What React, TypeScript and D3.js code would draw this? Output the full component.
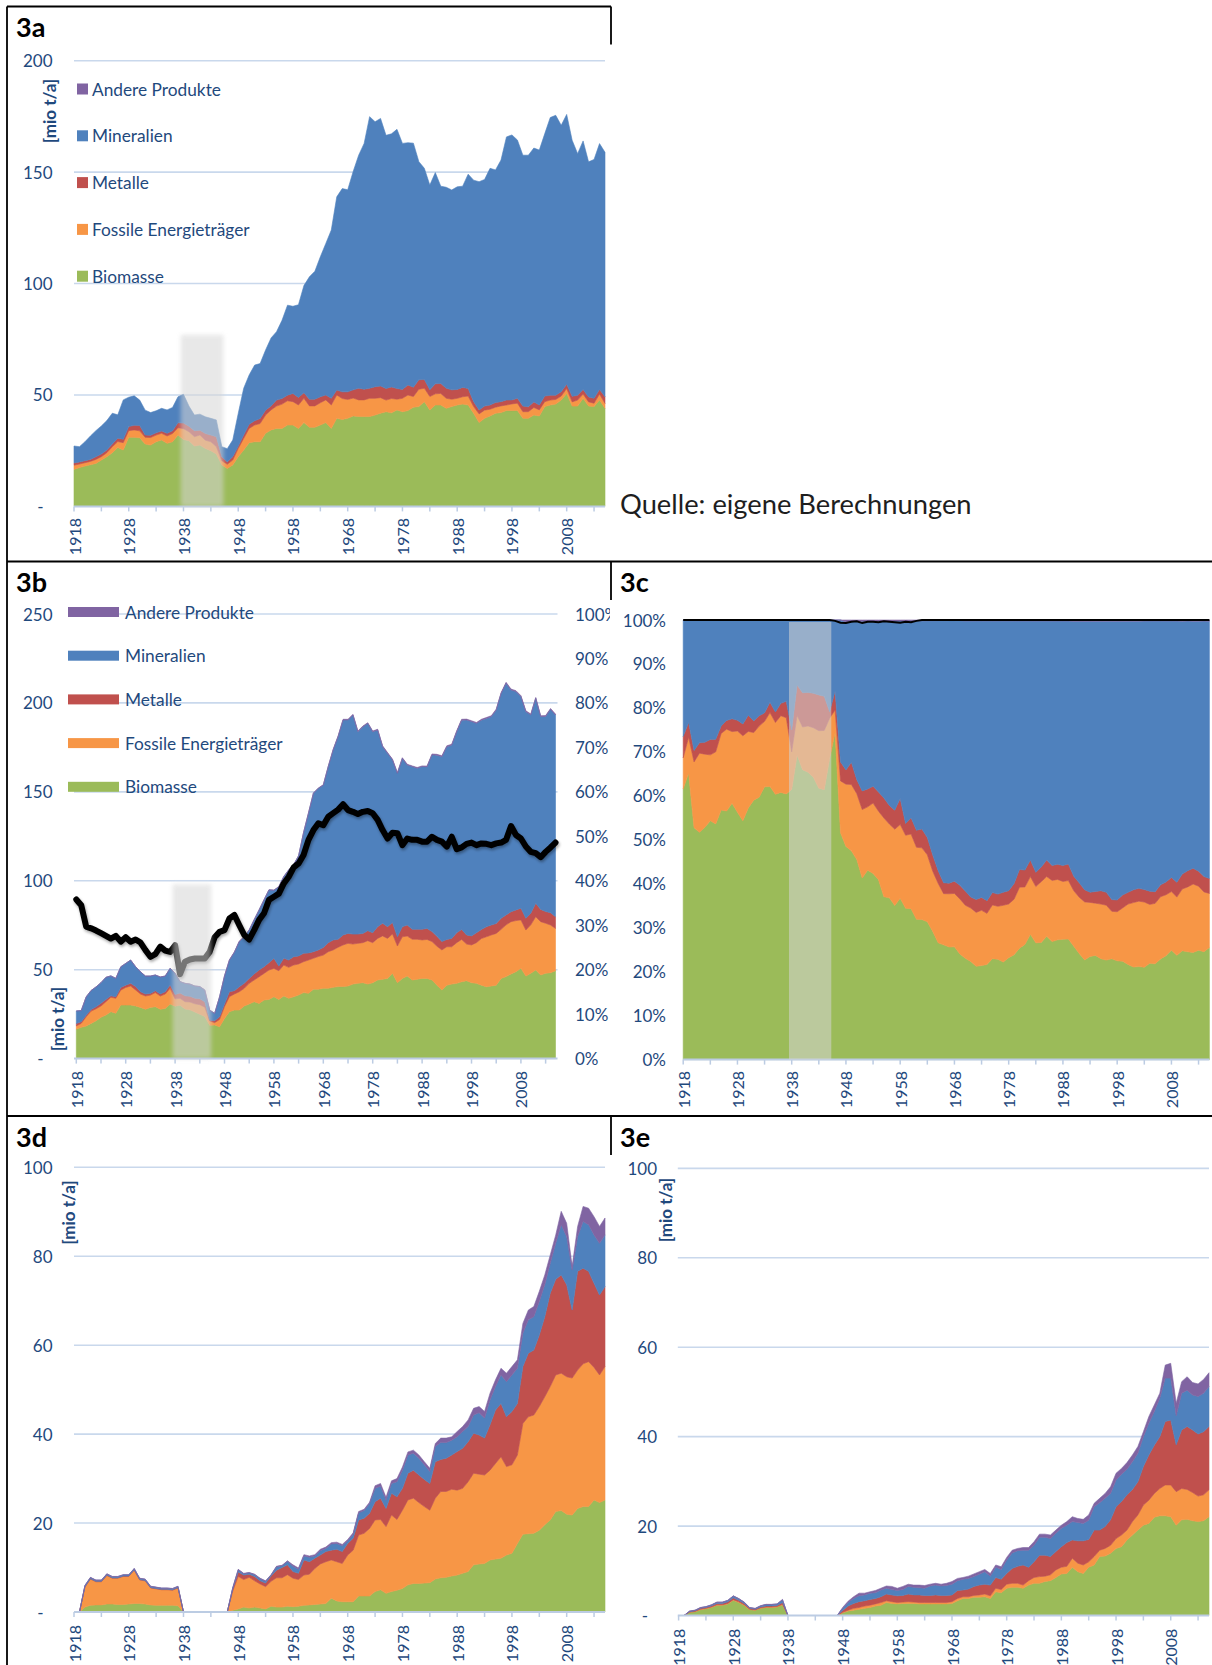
import React from 'react';
import * as d3 from 'd3';

const FONT = "Lato, 'Open Sans', 'DejaVu Sans', sans-serif";
const TEXT = '#1F497D';
const GRID = '#C9D8EC';
const AXIS = '#BCCCE3';

const years = d3.range(1918, 2016);
const keys = ['bio', 'fos', 'met', 'min', 'and'];
const names: Record<string, string> = {
  and: 'Andere Produkte', min: 'Mineralien', met: 'Metalle', fos: 'Fossile Energieträger', bio: 'Biomasse',
};
const colors: Record<string, string> = {
  bio: '#9BBB59', fos: '#F79646', met: '#C0504D', min: '#4F81BD', and: '#8064A2',
};
const legendOrder = ['and', 'min', 'met', 'fos', 'bio'];

// ---------- 3a ----------
const a_bio = [16.6,17.4,18.1,18.7,19.3,20.8,22.3,24.1,26.4,25.3,
31.0,31.0,30.8,28.0,27.5,29.0,29.8,28.3,29.0,32.0,
30.0,29.5,27.1,27.5,26.0,25.0,23.5,18.6,17.0,18.6,
22.3,25.3,28.6,29.0,29.0,32.8,34.3,35.0,35.0,36.5,
36.5,35.0,37.6,35.5,35.5,36.5,37.6,35.0,39.5,39.0,
39.5,40.6,40.3,40.3,40.3,41.0,41.8,42.5,42.0,43.3,
42.5,43.0,44.5,44.8,47.0,43.3,45.5,45.5,44.0,44.8,
45.5,45.9,45.5,41.8,37.6,39.5,40.6,41.8,42.1,43.0,
43.0,43.0,39.5,39.5,41.0,40.6,44.8,45.5,45.9,47.7,
50.7,45.0,45.0,48.5,45.0,44.8,47.7,44.0];
const a_fos = [1.9,1.6,1.5,1.5,1.8,1.5,1.8,2.7,2.7,3.3,
3.0,3.3,3.1,3.0,3.4,3.0,3.0,3.3,3.7,3.3,
4.9,4.0,4.2,4.5,3.7,4.0,3.3,1.9,1.9,2.2,
3.7,5.2,6.4,7.5,8.2,8.2,9.0,10.0,10.9,10.9,
10.5,10.5,10.9,9.6,9.6,10.0,10.2,10.5,10.5,9.4,
8.5,8.0,7.5,7.5,8.2,7.5,7.0,5.2,6.4,4.8,
6.0,7.0,4.8,7.8,6.0,6.0,5.0,5.2,4.5,3.3,
3.0,3.3,4.0,3.0,3.9,3.7,3.0,2.7,3.0,2.5,
3.0,3.3,3.0,3.0,3.4,2.7,2.2,2.2,2.1,1.8,
2.2,1.9,2.7,1.9,1.9,1.5,2.7,2.2];
const a_met = [1.0,0.9,0.9,0.9,1.2,1.2,1.2,1.2,1.5,1.5,
1.8,2.1,2.4,1.0,1.0,1.0,1.0,1.2,1.2,2.2,
2.5,2.5,2.7,2.2,3.0,3.0,4.5,1.8,1.0,1.5,
1.0,1.5,1.9,1.9,2.2,2.2,1.8,2.7,2.5,2.5,
3.7,3.4,2.5,3.0,3.0,2.7,2.2,3.0,2.2,3.0,
3.4,3.7,5.2,4.8,4.5,5.2,5.2,5.2,5.2,4.8,
4.0,4.5,4.2,4.2,4.0,3.0,4.5,4.5,4.5,4.2,
4.0,4.2,3.4,2.2,1.8,1.8,1.9,2.1,1.9,2.2,
1.8,2.2,2.5,2.2,2.5,2.2,2.5,2.2,1.9,1.9,
1.9,2.5,2.2,2.1,2.2,2.2,2.1,3.0];
const a_min = [7.6,6.9,8.5,10.5,11.7,12.6,13.2,13.8,10.5,17.7,
13.2,13.2,11.4,11.2,10.2,9.9,10.2,10.5,10.5,11.7,
12.9,9.0,7.0,7.2,7.5,7.5,7.5,4.5,6.0,7.5,
14.7,21.0,22.1,25.0,24.7,27.0,30.5,30.7,35.1,40.4,
39.1,41.6,48.1,54.9,57.4,62.8,68.0,75.5,86.7,91.2,
90.7,98.0,104.6,110.3,121.9,118.9,120.1,113.6,113.6,116.3,
110.4,108.7,109.5,97.9,94.7,91.9,94.8,88.5,90.2,89.7,
90.9,90.3,96.2,99.4,102.4,101.7,106.2,104.4,108.4,118.1,
118.9,115.9,112.6,112.9,113.9,114.4,117.8,124.6,125.6,119.6,
121.1,114.9,108.4,111.5,105.5,107.2,110.3,109.7];

// ---------- 3b ----------
const b_bio = [16.5,17.6,18.3,19.8,21.3,23.2,24.5,26.4,25.5,30.1,
30.1,30.1,29.6,28.8,27.7,28.8,29.2,27.7,28.2,30.7,
29.5,30.0,27.9,27.4,26.2,25.0,23.7,18.7,18.9,17.9,
22.6,26.4,27.3,27.3,29.6,30.7,32.0,31.0,32.9,33.3,
34.8,33.3,35.2,33.9,34.8,35.8,37.1,36.7,39.0,39.0,
39.5,39.5,40.1,40.5,40.5,40.8,41.9,42.3,42.7,41.9,
42.7,44.2,44.6,45.1,48.0,42.7,45.1,46.4,44.2,44.6,
45.1,45.1,44.2,41.3,38.6,41.3,41.9,42.3,43.2,43.8,
42.7,42.3,41.3,40.4,40.8,41.3,45.1,46.1,47.6,48.9,
50.8,46.4,48.0,49.8,47.0,48.0,48.3,49.4];
const b_fos = [1.9,2.2,5.2,6.9,6.7,6.4,7.5,8.1,8.4,8.4,
9.9,10.7,9.0,7.5,7.5,6.9,7.9,7.5,8.1,8.8,
4.1,3.9,4.1,4.4,4.6,5.3,5.2,2.5,1.3,4.1,
6.6,8.4,9.0,10.3,9.9,11.6,12.2,15.0,15.0,16.5,
15.9,16.1,17.4,17.4,17.8,17.4,17.4,18.7,17.4,18.4,
18.7,20.6,21.0,22.1,23.4,24.0,22.5,22.5,22.5,24.4,
22.5,23.4,24.4,22.5,22.1,20.6,23.4,22.5,22.9,22.5,
21.6,21.9,21.6,21.9,22.5,21.6,21.0,22.9,23.8,20.6,
21.2,22.9,26.2,28.1,28.7,29.1,27.6,29.1,29.4,28.7,
27.2,25.9,27.2,30.0,30.0,28.1,26.8,23.8];
const b_met = [1.3,0.9,0.9,0.9,1.1,1.5,1.3,0.8,0.9,1.5,
1.3,1.5,1.9,1.3,1.1,0.9,1.1,1.1,1.3,1.9,
2.4,3.0,3.3,3.2,3.2,3.3,3.0,0.4,1.1,1.5,
1.5,2.8,1.9,2.8,2.8,2.8,3.4,3.8,3.8,4.1,
5.6,2.6,3.8,4.1,4.7,4.5,4.7,4.0,3.7,3.7,
4.3,5.1,5.6,4.5,5.6,5.6,5.6,5.2,5.2,5.6,
5.6,6.6,7.1,6.6,6.4,5.2,5.6,6.2,5.6,5.6,
6.0,6.2,5.6,5.6,4.7,4.1,4.7,5.6,5.6,5.1,
5.1,5.6,5.1,5.6,5.6,5.6,6.2,5.6,5.6,6.0,
6.6,6.6,6.6,7.5,6.9,6.6,6.9,6.6];
const b_min = [7.1,6.3,10.3,10.7,11.2,11.6,12.4,11.2,10.3,11.6,
12.2,13.1,11.2,11.2,10.1,9.8,8.8,9.6,8.8,9.4,
12.0,6.4,7.0,6.9,6.8,6.9,6.7,5.7,4.1,11.2,
15.7,17.8,21.6,25.5,26.2,27.2,30.4,33.7,37.5,40.9,
38.3,44.6,45.9,50.6,51.7,56.3,67.8,78.6,89.1,90.9,
91.3,99.0,106.9,114.0,120.9,120.0,123.2,113.8,116.2,116.6,
113.0,110.6,99.4,97.5,91.5,91.9,94.7,90.0,91.5,90.6,
91.5,90.9,99.4,101.8,104.0,108.4,108.7,113.0,117.7,120.9,
120.5,117.7,117.7,117.2,117.2,120.0,126.5,130.3,124.7,122.8,
119.0,116.2,111.5,115.3,108.4,109.7,114.4,113.4];
const b_and = [0,0,0,0,0,0,0,0,0,0,
0,0,0,0,0,0,0,0,0,0,
0,0,0,0,0,0,0,0,0,0,
0.2,0.2,0.2,0.2,0.2,0.2,0.2,0.2,0.2,0.2,
0.2,0.2,0.2,0.2,0.2,0.2,0.2,0.2,0.2,0.2,
0.2,0.2,0.4,0.4,0.4,0.4,0.4,0.4,0.4,0.4,
0.4,0.4,0.4,0.4,0.4,0.4,0.4,0.4,0.4,0.4,
0.4,0.4,0.5,0.5,0.5,0.5,0.5,0.5,0.5,0.5,
0.5,0.5,0.5,0.5,0.5,0.5,0.5,0.5,0.5,0.5,
0.5,0.5,0.5,0.5,0.5,0.5,0.5,0.5];
// share line (right axis, %)
const b_line = [35.8,34.5,29.7,29.3,28.8,28.2,27.6,27.0,27.6,26.3,
27.3,26.3,26.8,26.1,24.4,22.9,23.5,25.2,24.3,24.0,
25.5,19.0,21.8,22.3,22.5,22.5,22.5,24.0,27.3,28.5,
28.9,31.5,32.3,30.0,27.8,26.8,28.9,31.2,32.7,35.7,
36.4,37.1,39.4,40.9,43.0,43.9,45.8,49.2,51.4,52.9,
52.5,54.4,55.2,56.0,57.2,55.9,55.5,55.0,55.5,55.7,
55.2,53.7,51.4,49.5,50.8,50.7,48.0,49.5,49.2,49.2,
48.8,48.8,49.9,49.2,48.8,47.7,49.9,47.1,47.5,48.3,
48.6,48.0,48.4,48.3,48.0,48.4,48.6,49.2,52.3,50.3,
49.5,47.7,46.5,46.2,45.3,46.5,47.5,48.6];

// ---------- 3c top line (%) ----------
const c_line = [100,100,100,100,100,100,100,100,100,100,
100,100,100,100,100,100,100,100,100,100,
100,100,100,100,100,100,100,100,99.8,99.4,
99.3,99.6,99.7,99.3,99.6,99.6,99.5,99.7,99.6,99.5,
99.4,99.6,99.5,99.8,100,100,100,100,100,100,
100,100,100,100,100,100,100,100,100,100,
100,100,100,100,100,100,100,100,100,100,
100,100,100,100,100,100,100,100,100,100,
100,100,100,100,100,100,100,100,100,100,
100,100,100,100,100,100,100,100];

// ---------- 3d ----------
const d_bio = [0,0,1.1,1.5,1.6,1.6,1.8,1.8,1.7,1.7,
1.8,1.9,1.9,1.8,1.6,1.5,1.5,1.5,1.5,1.4,
0,0,0,0,0,0,0,0,0,0.4,
0.7,1.1,0.9,1.1,0.9,0.7,1.3,1.1,1.1,1.3,
1.2,1.3,1.5,1.6,1.7,1.8,1.9,3.1,2.5,2.3,
2.3,2.3,3.6,3.6,3.6,4.6,5.0,4.2,4.6,4.9,
5.3,6.1,6.4,6.4,6.5,6.6,7.4,7.7,7.8,8.1,
8.3,8.7,9.1,10.6,10.8,10.9,11.7,11.9,12.1,12.8,
13.2,15.4,17.5,17.6,17.7,18.4,19.6,20.7,22.6,22.8,
22.0,21.8,23.3,23.7,23.7,25.2,24.6,25.2];
const d_fos = [0,0,4.5,5.9,5.2,5.2,6.4,5.8,5.9,6.3,
6.2,7.5,5.3,5.2,3.8,3.7,3.5,3.5,3.4,4.0,
0,0,0,0,0,0,0,0,0,4.3,
7.3,6.2,6.9,5.9,5.4,5.0,5.6,6.6,6.6,7.1,
6.4,6.0,6.8,6.9,8.1,9.0,9.4,8.6,8.8,8.6,
10.5,11.6,13.7,14.1,15.2,16.1,15.8,15.0,17.2,15.9,
17.6,19.1,19.2,18.2,17.2,16.3,18.2,19.4,19.3,19.5,
19.1,19.1,20.2,20.6,20.2,19.9,20.2,21.5,22.8,19.9,
19.9,19.9,24.9,26.3,26.6,27.8,28.8,30.0,30.7,30.9,
30.9,30.8,31.1,32.1,32.6,29.8,28.7,30.0];
const d_met = [0,0,0.1,0.1,0.1,0.1,0.1,0.1,0.1,0.1,
0.1,0.1,0.1,0.1,0.1,0.1,0.1,0.1,0.1,0.1,
0,0,0,0,0,0,0,0,0,0.5,
1.0,1.0,0.7,1.0,0.7,0.8,1.2,1.7,2.3,2.2,
1.5,1.4,3.4,2.8,2.3,2.0,2.3,2.2,2.8,2.7,
2.6,2.7,3.4,3.4,3.4,4.1,4.8,4.1,4.9,5.1,
4.9,6.0,6.3,6.2,6.1,6.0,8.2,7.2,7.5,7.7,
8.7,9.0,9.0,9.0,8.8,8.3,10.2,12.0,12.0,11.2,
12.0,11.6,12.8,14.3,14.6,16.1,18.0,21.0,21.5,22.1,
20.7,15.3,22.2,21.5,20.3,18.9,18.0,18.0];
const d_min = [0,0,0.25,0.25,0.25,0.25,0.25,0.25,0.25,0.25,
0.25,0.25,0.25,0.25,0.25,0.25,0.25,0.25,0.25,0.25,
0,0,0,0,0,0,0,0,0,0.2,
0.5,0.3,0.3,0.4,0.5,0.4,0.2,0.8,0.4,0.8,
1.2,0.9,0.9,1.0,0.5,1.0,0.7,1.4,1.3,1.3,
0.6,0.9,1.6,1.7,2.2,3.0,2.7,1.9,2.2,3.4,
4.1,4.1,3.8,3.8,3.3,2.7,3.4,3.8,3.5,3.3,
3.3,3.8,3.4,4.1,5.0,4.5,5.6,5.3,6.4,7.9,
8.2,7.9,7.5,7.5,7.5,7.5,7.2,6.7,8.1,11.3,
10.8,9.0,7.8,10.5,10.5,10.9,11.6,11.6];
const d_and = [0,0,0.05,0.05,0.05,0.05,0.05,0.05,0.05,0.05,
0.05,0.05,0.05,0.05,0.05,0.05,0.05,0.05,0.05,0.05,
0,0,0,0,0,0,0,0,0,0.1,
0.1,0.1,0.1,0.1,0.1,0.1,0.1,0.1,0.1,0.1,
0.3,0.3,0.3,0.3,0.3,0.3,0.3,0.3,0.3,0.3,
0.3,0.3,0.3,0.3,0.3,0.6,0.6,0.6,0.6,0.7,
0.7,0.7,0.7,0.7,0.7,0.7,0.7,1.0,1.0,0.8,
1.2,1.1,1.5,1.5,1.4,1.5,1.5,1.5,1.5,1.9,
1.9,1.9,2.2,2.2,2.3,2.3,2.2,1.9,1.9,3.0,
3.0,0.8,2.3,3.4,3.7,4.1,3.8,3.8];

// ---------- 3e ----------
const e_bio = [0,0,0.7,0.85,1.3,1.5,1.8,2.3,2.3,2.6,
3.4,2.9,2.3,1.3,1.2,1.6,1.8,1.8,1.9,2.4,
0,0,0,0,0,0,0,0,0,0,
0.6,1.0,1.2,1.4,1.6,1.8,2.1,2.3,2.9,2.7,
2.6,2.7,2.7,2.7,2.6,2.6,2.6,2.6,2.6,2.6,
2.7,3.3,3.8,3.8,4.1,4.1,4.2,3.8,5.3,5.1,
6.1,6.3,6.3,6.1,6.8,7.2,7.2,7.6,7.8,8.5,
9.3,9.4,10.8,9.8,9.4,10.8,11.3,13.2,13.3,13.9,
15.0,15.4,16.9,18.0,19.1,20.2,20.6,22.0,22.3,22.3,
22.1,20.2,21.4,21.5,21.2,21.0,21.2,22.1];
const e_fos = [0,0,0.05,0.05,0.1,0.1,0.1,0.1,0.1,0.1,
0.15,0.15,0.1,0.1,0.05,0.1,0.1,0.1,0.1,0.1,
0,0,0,0,0,0,0,0,0,0,
0.1,0.2,0.4,0.4,0.5,0.5,0.5,0.6,0.4,0.4,
0.3,0.3,0.4,0.3,0.3,0.3,0.3,0.3,0.3,0.3,
0.4,0.5,0.4,0.4,0.4,0.5,0.6,0.6,0.8,0.7,
0.9,0.9,0.9,0.7,1.0,1.3,1.5,1.2,1.3,1.7,
1.5,1.6,2.0,1.9,1.9,1.2,1.9,1.4,1.7,1.8,
2.2,2.6,2.2,3.0,3.4,4.5,5.2,5.3,6.1,6.9,
7.1,7.5,7.0,6.7,6.3,5.7,5.8,6.0];
const e_met = [0,0,0.1,0.15,0.2,0.2,0.25,0.3,0.3,0.35,
0.4,0.35,0.3,0.2,0.15,0.2,0.25,0.25,0.25,0.4,
0,0,0,0,0,0,0,0,0,0,
0.4,0.9,1.1,1.3,1.2,1.3,1.2,1.3,1.5,1.5,
1.5,1.5,1.7,1.6,1.7,1.6,1.6,1.7,1.6,1.6,
1.5,1.8,1.5,1.7,2.0,2.2,2.2,2.4,2.4,2.3,
2.4,3.3,3.8,4.5,3.0,3.5,4.8,4.7,4.1,4.1,
4.6,5.3,4.1,5.0,5.4,5.0,5.9,4.5,4.9,5.7,
7.1,7.5,7.9,7.2,7.4,8.6,10.1,10.8,11.6,14.2,
14.5,10.5,13.1,14.1,14.0,13.9,14.1,14.2];
const e_min = [0,0,0.1,0.1,0.15,0.15,0.2,0.25,0.25,0.3,
0.4,0.35,0.25,0.15,0.15,0.25,0.3,0.3,0.3,0.6,
0,0,0,0,0,0,0,0,0,0,
0.5,0.8,1.1,1.3,1.3,1.4,1.3,1.5,1.3,1.2,
1.2,1.3,1.7,1.7,1.6,1.6,2.1,2.2,2.1,2.2,
2.4,2.2,2.4,2.4,2.2,2.4,2.8,2.0,2.3,2.2,
3.0,3.5,3.5,3.3,3.8,3.7,4.0,4.0,4.0,4.1,
4.1,3.9,4.1,4.1,3.9,4.3,5.2,6.1,6.3,5.9,
6.0,6.1,5.7,6.2,6.4,6.7,7.1,7.5,8.6,9.7,
9.4,6.5,8.2,8.1,7.8,8.4,8.6,8.9];
const e_and = [0,0,0.05,0.05,0.05,0.05,0.05,0.05,0.05,0.05,
0.05,0.05,0.05,0.05,0.05,0.05,0.05,0.05,0.05,0.1,
0,0,0,0,0,0,0,0,0,0,
0.2,0.3,0.4,0.6,0.4,0.3,0.5,0.4,0.5,0.7,
0.5,0.7,0.5,0.5,0.6,0.6,0.4,0.4,0.4,0.5,
0.6,0.5,0.4,0.5,0.6,0.6,0.5,0.6,0.5,0.6,
0.6,0.6,0.5,0.6,0.6,0.8,0.7,0.7,0.8,0.7,
0.7,0.8,1.1,0.9,0.9,1.2,0.8,1.0,1.1,1.5,
1.5,1.3,1.5,1.5,1.5,1.1,1.5,1.5,1.1,2.9,
3.3,2.8,2.6,3.0,2.8,2.8,3.1,3.1];

const overlayYears = [1937.5, 1945.3];
const ticks5 = d3.range(1918, 2016, 5);
const ticks10 = d3.range(1918, 2016, 10);

const LEG_FS = 17.3;
const TICK_FS = 17;

function buildRows(arrs: number[][], ks: string[]) {
  return years.map((yr, i) => {
    const r: any = { year: yr };
    ks.forEach((k, j) => { r[k] = arrs[j][i]; });
    return r;
  });
}

function Areas({ rows, ks, x, y, expand }: any) {
  const stack = d3.stack<any>().keys(ks);
  if (expand) stack.offset(d3.stackOffsetExpand);
  const series = stack(rows);
  const area = d3.area<any>()
    .x((d: any) => x(d.data.year))
    .y0((d: any) => y(d[0]))
    .y1((d: any) => y(d[1]))
    .curve(d3.curveLinear);
  return (
    <g>
      {series.map((s: any) => (
        <path key={s.key} d={area(s) || ''} fill={colors[s.key]} stroke={colors[s.key]} strokeWidth={0.6} />
      ))}
    </g>
  );
}

function XAxis({ x, yBase, xStart, xEnd, labelTop }: any) {
  return (
    <g>
      <line x1={xStart} x2={xEnd} y1={yBase} y2={yBase} stroke={AXIS} strokeWidth={2} />
      {ticks5.map((t) => (
        <line key={t} x1={x(t)} x2={x(t)} y1={yBase} y2={yBase + 5} stroke={AXIS} strokeWidth={1.5} />
      ))}
      {ticks10.map((t) => (
        <text key={t} transform={`translate(${x(t)},${labelTop}) rotate(-90)`} textAnchor="end"
          dominantBaseline="central" fontSize={16} fill={TEXT}>{t}</text>
      ))}
    </g>
  );
}

function YAxis({ y, ticks, xRight, fmt, grid }: any) {
  return (
    <g>
      {grid && ticks.filter((t: number) => t > 0).map((t: number) => (
        <line key={'g' + t} x1={grid[0]} x2={grid[1]} y1={y(t)} y2={y(t)} stroke={GRID} strokeWidth={1.6} />
      ))}
      {ticks.map((t: number) => (
        <text key={t} x={t === 0 && fmt === undefined ? xRight - 9 : xRight} y={y(t)} textAnchor="end"
          dominantBaseline="central" fontSize={TICK_FS} fill={TEXT}>
          {fmt ? fmt(t) : t === 0 ? '-' : String(t)}
        </text>
      ))}
    </g>
  );
}

function UnitLabel({ cx, cy }: any) {
  return (
    <text transform={`translate(${cx},${cy}) rotate(-90)`} textAnchor="middle" dominantBaseline="central"
      fontSize={17} fontWeight="bold" fill={TEXT}>[mio t/a]</text>
  );
}

function PanelTitle({ x, y, t }: any) {
  return <text x={x} y={y} fontSize={27} fontWeight="bold" fill="#000">{t}</text>;
}

function Overlay({ x, y0, y1, blur }: any) {
  const xa = x(overlayYears[0]);
  const xb = x(overlayYears[1]);
  return (
    <rect x={xa} y={y1} width={xb - xa} height={y0 - y1} fill="#D6D6D6" opacity={0.55}
      filter={blur ? 'url(#soft)' : undefined} />
  );
}

export default function App() {
  // 3a
  const xA = d3.scaleLinear().domain([1918, 2015]).range([74, 605]);
  const yA = d3.scaleLinear().domain([0, 200]).range([506.4, 60.7]);
  const rowsA = buildRows([a_bio, a_fos, a_met, a_min], ['bio', 'fos', 'met', 'min']);
  // 3b
  const xB = d3.scaleLinear().domain([1918, 2015]).range([76.3, 555.5]);
  const yB = d3.scaleLinear().domain([0, 250]).range([1058.6, 614]);
  const yBp = d3.scaleLinear().domain([0, 100]).range([1058.6, 614]);
  const rowsB = buildRows([b_bio, b_fos, b_met, b_min, b_and], keys);
  const lineB = d3.line<number>().x((_, i) => xB(years[i])).y((v) => yBp(v)).curve(d3.curveLinear);
  // 3c
  const xC = d3.scaleLinear().domain([1918, 2015]).range([683.2, 1209.4]);
  const yC = d3.scaleLinear().domain([0, 1]).range([1059.6, 620]);
  const yCp = d3.scaleLinear().domain([0, 100]).range([1059.6, 620]);
  const lineC = d3.line<number>().x((_, i) => xC(years[i])).y((v) => yCp(v));
  // 3d
  const xD = d3.scaleLinear().domain([1918, 2015]).range([74, 605]);
  const yD = d3.scaleLinear().domain([0, 100]).range([1612, 1167.3]);
  const rowsD = buildRows([d_bio, d_fos, d_met, d_min, d_and], keys);
  // 3e
  const xE = d3.scaleLinear().domain([1918, 2015]).range([678.6, 1209]);
  const yE = d3.scaleLinear().domain([0, 100]).range([1615.5, 1168.4]);
  const rowsE = buildRows([e_bio, e_fos, e_met, e_min, e_and], keys);

  const pct = (v: number) => v + '%';

  return (
    <svg width={1212} height={1665} style={{ position: 'absolute', left: 0, top: 0 }} fontFamily={FONT}>
      <defs>
        <filter id="soft" x="-30%" y="-10%" width="160%" height="120%">
          <feGaussianBlur stdDeviation="2" />
        </filter>
        <filter id="lineShadow" x="-5%" y="-20%" width="110%" height="140%">
          <feGaussianBlur in="SourceAlpha" stdDeviation="1.5" />
          <feOffset dx="1" dy="1.5" result="off" />
          <feComponentTransfer><feFuncA type="linear" slope="0.35" /></feComponentTransfer>
          <feMerge><feMergeNode /><feMergeNode in="SourceGraphic" /></feMerge>
        </filter>
        <clipPath id="clipB"><rect x={0} y={562} width={610} height={553} /></clipPath>
      </defs>
      <rect x={0} y={0} width={1212} height={1665} fill="#fff" />

      {/* ---------- 3a ---------- */}
      <g>
        <YAxis y={yA} ticks={[0, 50, 100, 150, 200]} xRight={52.5} grid={[74, 605]} />
        <Areas rows={rowsA} ks={['bio', 'fos', 'met', 'min']} x={xA} y={yA} />
        <XAxis x={xA} yBase={506.4} xStart={74} xEnd={605} labelTop={518} />
        <UnitLabel cx={49.4} cy={111} />
        {legendOrder.map((k, i) => (
          <g key={k}>
            <rect x={77} y={89 + i * 46.8 - 5.5} width={11} height={11} fill={colors[k]} />
            <text x={92} y={89 + i * 46.8} dominantBaseline="central" fontSize={LEG_FS} fill={TEXT}>{names[k]}</text>
          </g>
        ))}
        <Overlay x={xA} y0={yA(0)} y1={yA(77)} blur />
        <PanelTitle x={16} y={37} t="3a" />
      </g>

      <text x={620} y={514} fontSize={27.3} fill="#1E1E1E">Quelle: eigene Berechnungen</text>

      {/* ---------- 3b ---------- */}
      <g clipPath="url(#clipB)">
        <YAxis y={yB} ticks={[0, 50, 100, 150, 200, 250]} xRight={52.5} grid={[74, 557.5]} />
        <Areas rows={rowsB} ks={keys} x={xB} y={yB} />
        <path d={lineB(b_line) || ''} fill="none" stroke="#000" strokeWidth={6} strokeLinejoin="round"
          strokeLinecap="round" filter="url(#lineShadow)" />
        <XAxis x={xB} yBase={1058.6} xStart={74} xEnd={557.5} labelTop={1071} />
        {[0, 10, 20, 30, 40, 50, 60, 70, 80, 90, 100].map((t) => (
          <text key={t} x={575} y={yBp(t)} dominantBaseline="central" fontSize={TICK_FS} fill={TEXT}>{pct(t)}</text>
        ))}
        <UnitLabel cx={57} cy={1019} />
        {legendOrder.map((k, i) => (
          <g key={k}>
            <rect x={68} y={612 + i * 43.7 - 5} width={51} height={10} fill={colors[k]} />
            <text x={125} y={612 + i * 43.7} dominantBaseline="central" fontSize={LEG_FS} fill={TEXT}>{names[k]}</text>
          </g>
        ))}
        <Overlay x={xB} y0={yB(0)} y1={yB(98)} blur />
        <PanelTitle x={16} y={592} t="3b" />
      </g>

      {/* ---------- 3c ---------- */}
      <g>
        <Areas rows={rowsB} ks={keys} x={xC} y={yC} expand />
        <path d={lineC(c_line) || ''} fill="none" stroke="#000" strokeWidth={2} />
        <YAxis y={yCp} ticks={[0, 10, 20, 30, 40, 50, 60, 70, 80, 90, 100]} xRight={666} fmt={pct} />
        <XAxis x={xC} yBase={1059.6} xStart={683.2} xEnd={1209.4} labelTop={1071} />
        <Overlay x={xC} y0={yC(0)} y1={yC(1) + 2} />
        <PanelTitle x={620} y={592} t="3c" />
      </g>

      {/* ---------- 3d ---------- */}
      <g>
        <YAxis y={yD} ticks={[0, 20, 40, 60, 80, 100]} xRight={52.5} grid={[74, 605]} />
        <Areas rows={rowsD} ks={keys} x={xD} y={yD} />
        <XAxis x={xD} yBase={1612} xStart={74} xEnd={605} labelTop={1625} />
        <UnitLabel cx={68} cy={1212.5} />
        <PanelTitle x={16} y={1147} t="3d" />
      </g>

      {/* ---------- 3e ---------- */}
      <g>
        <YAxis y={yE} ticks={[0, 20, 40, 60, 80, 100]} xRight={657} grid={[677.8, 1209]} />
        <Areas rows={rowsE} ks={keys} x={xE} y={yE} />
        <XAxis x={xE} yBase={1615.5} xStart={677.8} xEnd={1209} labelTop={1628.6} />
        <UnitLabel cx={665} cy={1210} />
        <PanelTitle x={620} y={1147} t="3e" />
      </g>

      {/* ---------- table borders ---------- */}
      <g stroke="#000" strokeWidth={1.8}>
        <line x1={7} x2={611} y1={6.5} y2={6.5} />
        <line x1={7} x2={7} y1={6.5} y2={1665} />
        <line x1={611} x2={611} y1={6.5} y2={44.6} />
        <line x1={7} x2={1212} y1={561.5} y2={561.5} />
        <line x1={611} x2={611} y1={561.5} y2={600} />
        <line x1={7} x2={1212} y1={1116} y2={1116} />
        <line x1={611} x2={611} y1={1116} y2={1155} />
      </g>
    </svg>
  );
}
